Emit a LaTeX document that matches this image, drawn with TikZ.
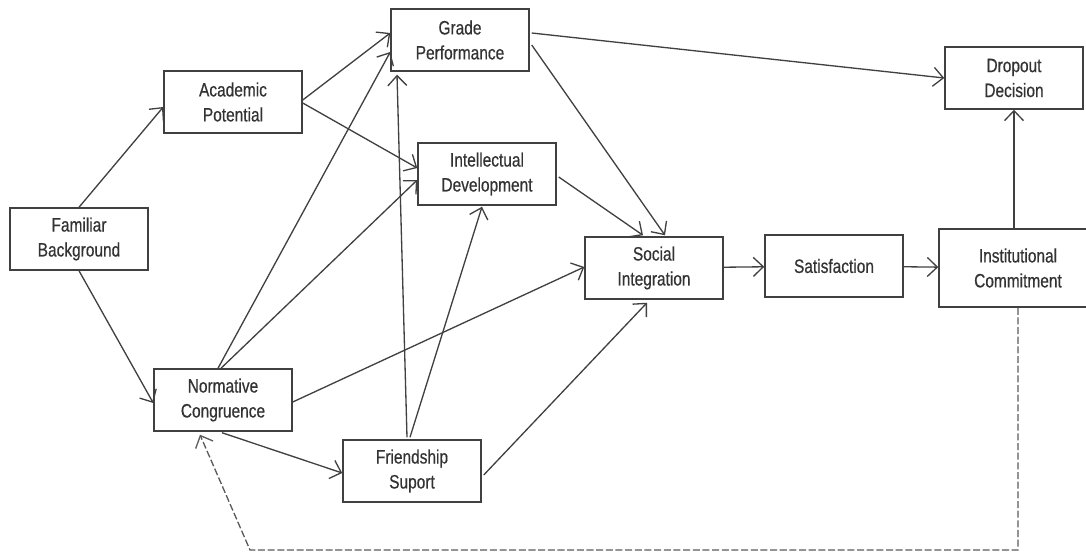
\documentclass[tikz,border=0pt]{standalone}
\usepackage{fontspec}
\setmainfont[FakeStretch=0.8,FakeBold=0.5]{Liberation Sans}
\usetikzlibrary{arrows.meta,calc}
\definecolor{Ink}{HTML}{333333}
\definecolor{Edge}{HTML}{404040}
\definecolor{Dash}{HTML}{5A5A5A}
\tikzset{box/.style={draw=Edge,line width=.85pt,minimum width=2.76cm,minimum height=1.24cm,align=center,inner sep=2pt,text=Ink,font=\fontsize{11}{14.2}\selectfont},link/.style={-{Straight Barb[length=2mm,width=3.8mm]},line width=.75pt,draw=Edge},back/.style={link,draw=Dash,dash pattern=on 4pt off 1.5pt}}

\begin{document}
\begin{tikzpicture}[x=.02cm,y=-.02cm]
  \useasboundingbox (0,0) rectangle (1086,554);
  \node[box](fb)at(79,239){Familiar\\Background};
  \node[box](ap)at(233,102){Academic\\Potential};
  \node[box](gp)at(460,40){Grade\\Performance};
  \node[box](id)at(487,174){Intellectual\\Development};
  \node[box](nc)at(223,400){Normative\\Congruence};
  \node[box](fs)at(412,471){Friendship\\Suport};
  \node[box](si)at(654,268){Social\\Integration};
  \node[box](sat)at(834,266){Satisfaction};
  \node[box,minimum width=3.16cm,minimum height=1.56cm](ic)at(1018,268){Institutional\\Commitment};
  \node[box](dd)at(1014,78){Dropout\\Decision};
  % background and first year
  \draw[link](fb.north)--($(ap.west)+(0,5)$);
  \draw[link](fb.south)--($(nc.west)+(0,3)$);
  \draw[link]($(ap.east)+(0,-2)$)--($(gp.west)+(0,-7)$);
  \draw[link]($(ap.east)+(0,1)$)--($(id.west)+(0,-6)$);
  \draw[link]($(nc.north)+(-5,0)$)--($(gp.west)+(0,12)$);
  \draw[link]($(nc.north)+(-2,0)$)--($(id.west)+(0,6)$);
  \draw[link]($(nc.east)+(0,2)$)--($(si.west)+(0,-1)$);
  \draw[link]($(nc.south)+(-1,1)$)--($(fs.west)+(0,2)$);
  \draw[link]($(fs.north)+(-5,-2)$)--($(gp.south)+(-63,3)$);
  \draw[link]($(fs.north)+(-2,-2)$)--($(id.south)+(-5,1)$);
  \draw[link]($(fs.east)+(2,4)$)--($(si.south)+(-7,3)$);
  % into integration
  \draw[link]($(gp.east)+(2,5)$)--($(si.north)+(11,-1)$);
  \draw[link]($(id.east)+(2,3)$)--($(si.north)+(-11,-1)$);
  \draw[link]($(gp.east)+(2,-7)$)--(dd.west);
  \draw[link](si)--(sat);
  \draw[link](sat)--(ic);
  \draw[link](ic.north-|dd.south)--(dd.south);
  % feedback
  \coordinate(corner)at(250,550);
  \draw[back](ic.south)--(ic.south|-corner)--(corner)--($(nc.south)+(-23,3)$);
\end{tikzpicture}
\end{document}
